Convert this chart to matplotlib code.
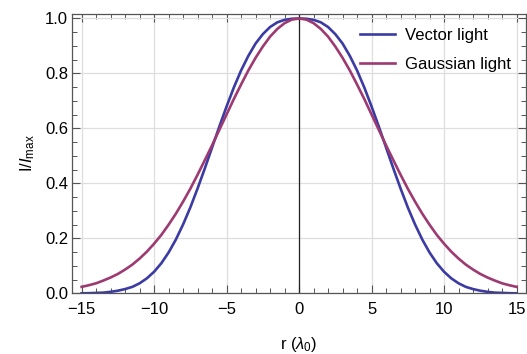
import matplotlib
matplotlib.use("Agg")
import matplotlib.pyplot as plt
from matplotlib.ticker import MultipleLocator
import numpy as np

plt.rcParams['font.family'] = ['Liberation Sans', 'DejaVu Sans']
plt.rcParams['mathtext.fontset'] = 'custom'
plt.rcParams['mathtext.rm'] = 'Liberation Sans'
plt.rcParams['mathtext.it'] = 'Liberation Sans:italic'

# half profiles (r >= 0); curves are symmetric about r = 0
r_half = [0, 0.5, 1, 1.5, 2, 2.5, 3, 3.5, 4, 4.5, 5, 5.5, 6, 6.5, 7, 7.5,
          8, 8.5, 9, 9.5, 10, 10.5, 11, 11.5, 12, 12.5, 13, 13.5, 14, 14.5, 15]
vector_half = [1.000, 0.999, 0.995, 0.986, 0.969, 0.943, 0.909, 0.864, 0.811,
               0.749, 0.680, 0.607, 0.531, 0.455, 0.382, 0.313, 0.251, 0.196,
               0.149, 0.110, 0.079, 0.055, 0.037, 0.024, 0.016, 0.010, 0.006,
               0.003, 0.002, 0.001, 0.0005]
gauss_half = [1.000, 0.996, 0.983, 0.962, 0.934, 0.898, 0.857, 0.811, 0.760,
              0.707, 0.651, 0.595, 0.539, 0.485, 0.432, 0.381, 0.334, 0.290,
              0.250, 0.213, 0.181, 0.152, 0.127, 0.105, 0.087, 0.071, 0.058,
              0.047, 0.037, 0.030, 0.024]

labels = ['Vector light', 'Gaussian light']
colors = ['#3b3ba3', '#9d3a72']

r = np.concatenate([-np.array(r_half[:0:-1]), r_half])
vector = np.concatenate([vector_half[:0:-1], vector_half])
gauss = np.concatenate([gauss_half[:0:-1], gauss_half])

fig = plt.figure(figsize=(5.27, 3.54), dpi=100)
ax = fig.add_axes([0.137, 0.171, 0.861, 0.790])

ax.plot(r, vector, color=colors[0], lw=1.9, label=labels[0], zorder=3)
ax.plot(r, gauss, color=colors[1], lw=1.9, label=labels[1], zorder=3)
ax.axvline(0, color='#222222', lw=0.9, zorder=2)

ax.set_xlim(-15.65, 15.65)
ax.set_ylim(0, 1.017)
ax.xaxis.set_major_locator(MultipleLocator(5))
ax.xaxis.set_minor_locator(MultipleLocator(1))
ax.yaxis.set_major_locator(MultipleLocator(0.2))
ax.yaxis.set_minor_locator(MultipleLocator(0.05))
ax.set_xticks([-15, -10, -5, 0, 5, 10, 15])
ax.set_xticklabels(['\u221215', '\u221210', '\u22125', '0', '5', '10', '15'])
ax.set_yticks([0, 0.2, 0.4, 0.6, 0.8, 1.0])
ax.set_yticklabels(['0.0', '0.2', '0.4', '0.6', '0.8', '1.0'])

ax.grid(True, which='major', color='#dedede', lw=0.9, zorder=0)
ax.set_axisbelow(True)
ax.tick_params(which='both', direction='in', top=True, right=True,
               color='#555555', labelsize=12)
ax.tick_params(which='major', length=6, width=0.8)
ax.tick_params(which='minor', length=3.5, width=0.7)
ax.tick_params(axis='x', pad=6)
ax.tick_params(axis='y', pad=3)
for s in ax.spines.values():
    s.set_color('#555555')
    s.set_linewidth(0.9)

ax.set_xlabel(r'r ($\lambda_0$)', fontsize=12, labelpad=13)
ax.set_ylabel(r'I/$I_{\mathrm{max}}$', fontsize=12, labelpad=6)

ax.legend(loc='upper left', bbox_to_anchor=(0.634, 0.95), frameon=False,
          fontsize=12, handlelength=2.1, handletextpad=0.6, labelspacing=0.85,
          borderpad=0, borderaxespad=0)

fig.savefig('out.png', dpi=100)
